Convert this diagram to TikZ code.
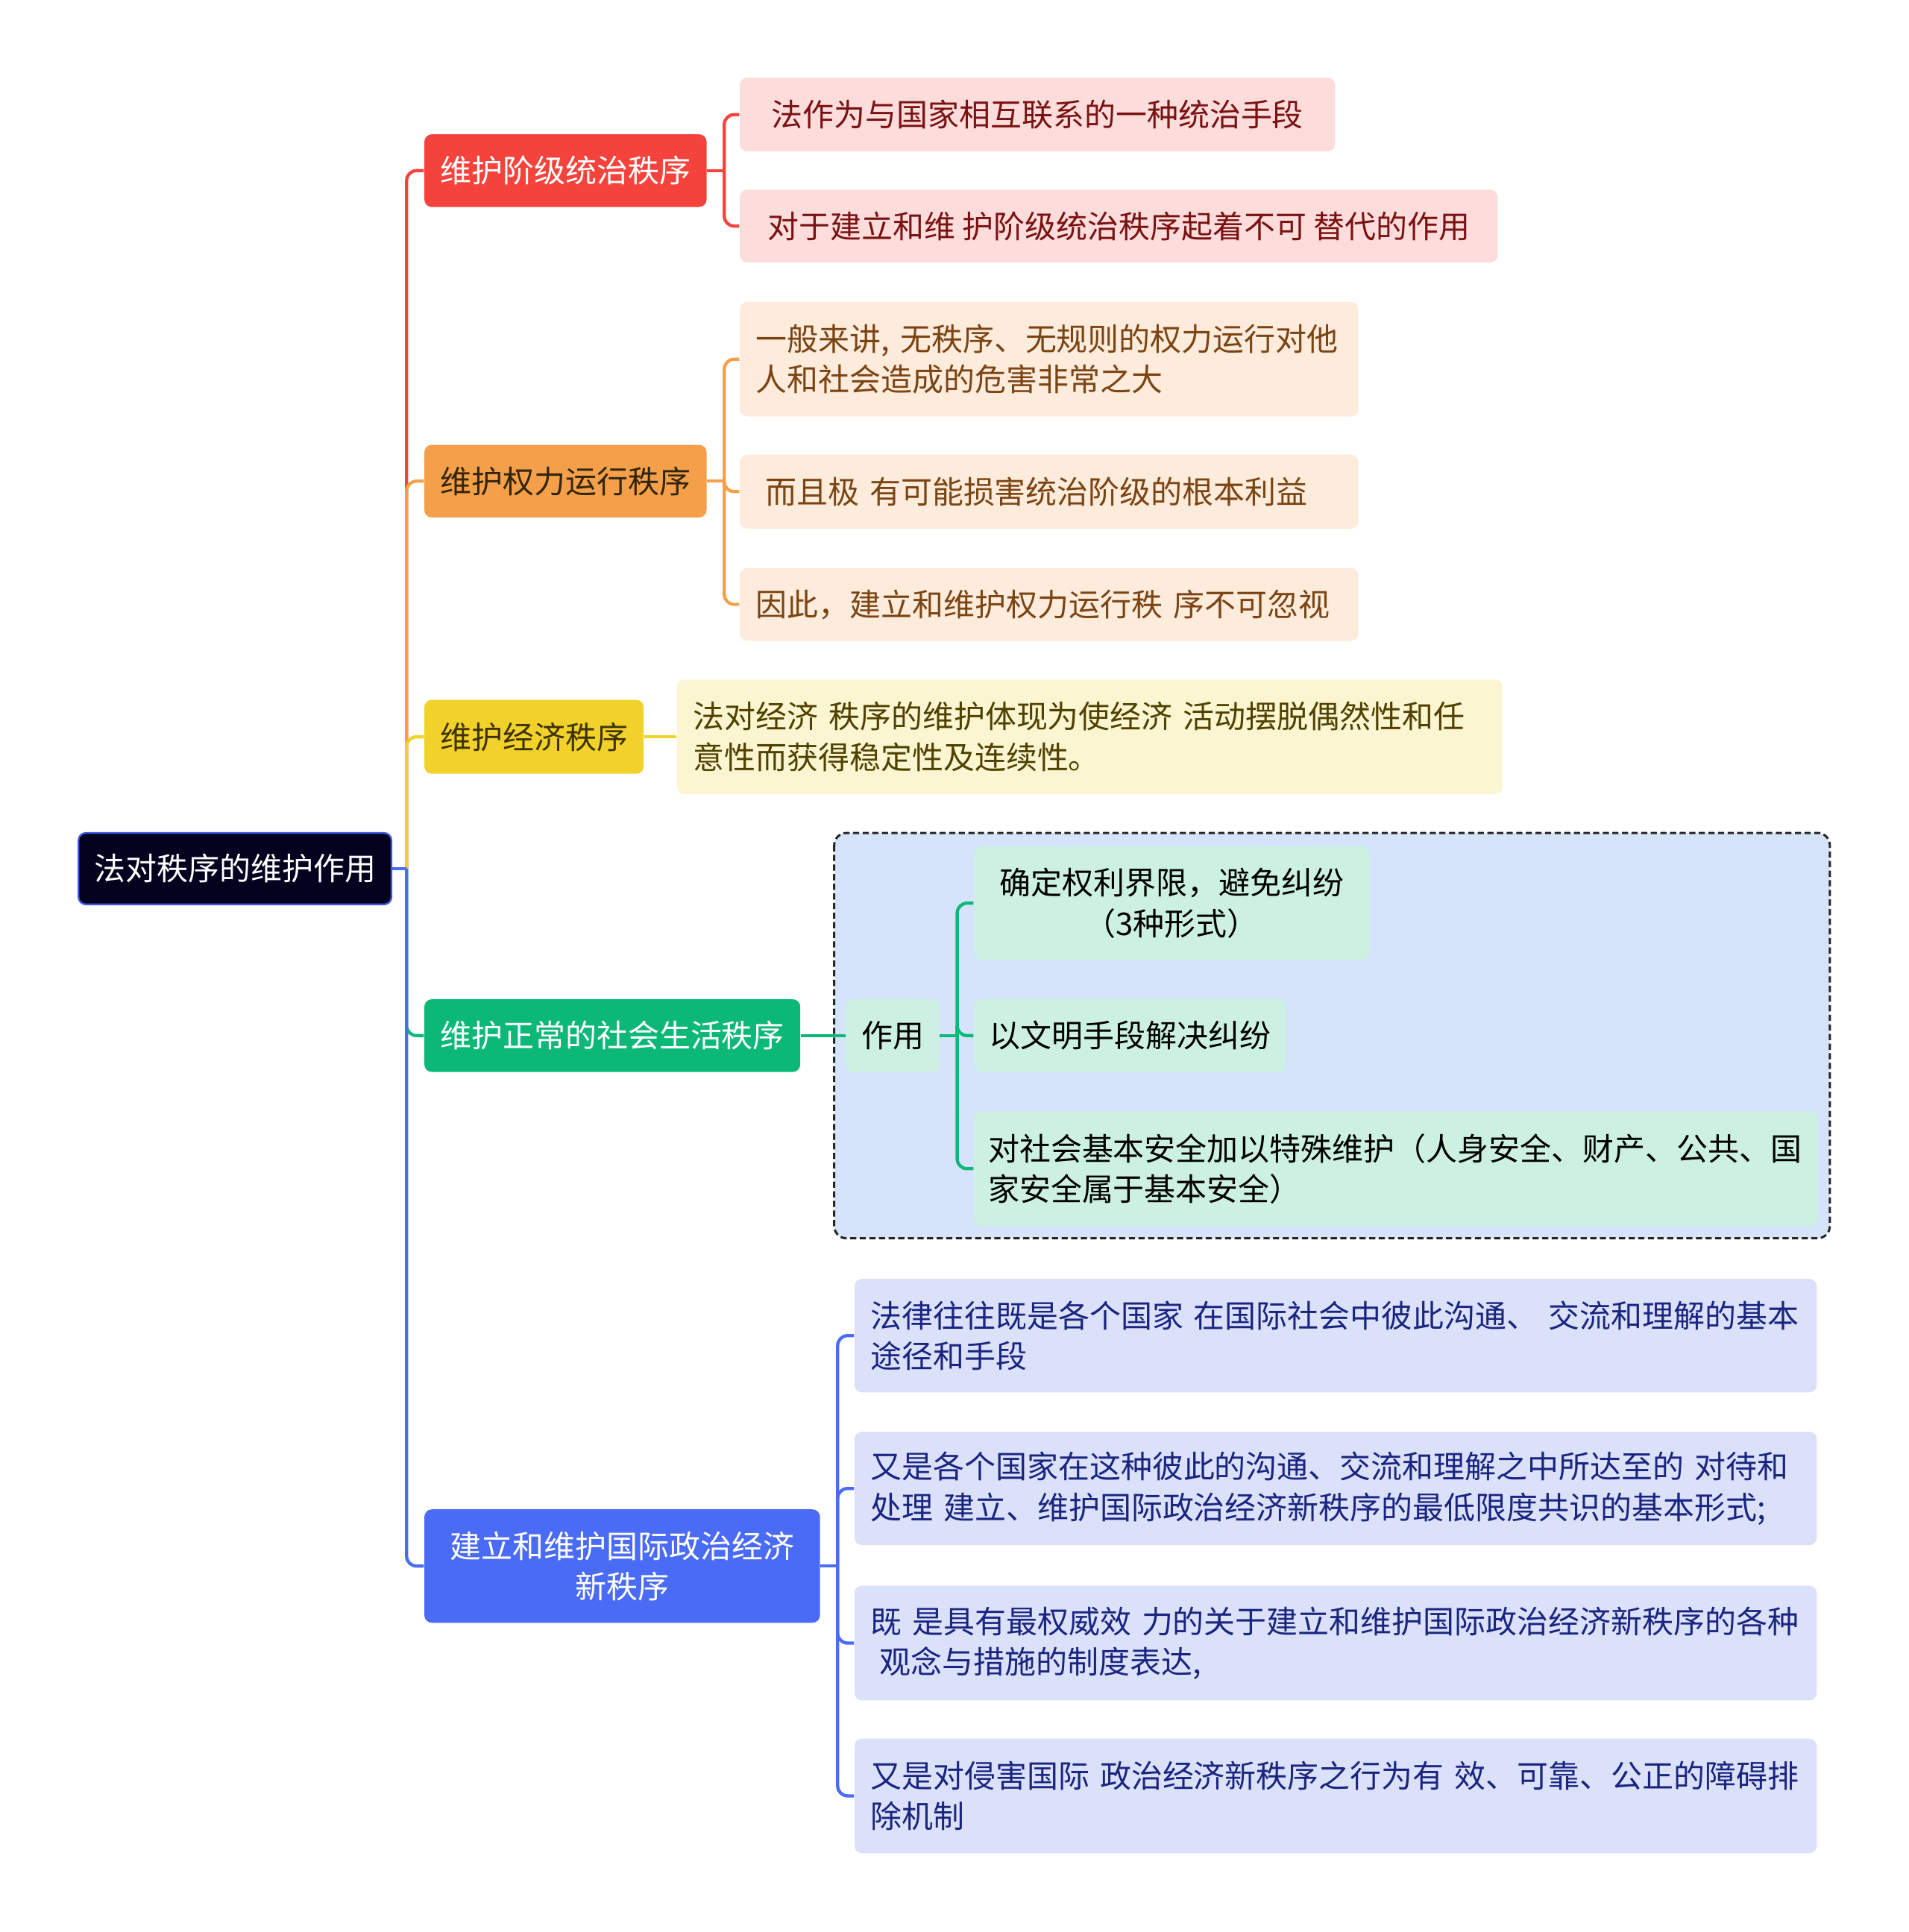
\documentclass[tikz,border=0pt]{standalone}
\usepackage{fontspec}
\setmainfont{Noto Sans CJK SC}
\newcommand\fs{\fontsize{12.7pt}{16.5pt}\selectfont}
\definecolor{cRed}{HTML}{F4433C}
\definecolor{cOrange}{HTML}{F4A04B}
\definecolor{cYellow}{HTML}{F2D22A}
\definecolor{cGreen}{HTML}{0CB877}
\definecolor{cBlue}{HTML}{4A6BF5}
\definecolor{cRoot}{HTML}{02021F}
\definecolor{cRootLine}{HTML}{3D5AE0}
\definecolor{fRed}{HTML}{FDDCDC}
\definecolor{fOrange}{HTML}{FDEBDC}
\definecolor{fYellow}{HTML}{FCF5D2}
\definecolor{fGreen}{HTML}{CDF1E1}
\definecolor{fBlue}{HTML}{DCE1FA}
\definecolor{fFrame}{HTML}{D5E3FB}
\definecolor{tRed}{HTML}{7A1212}
\definecolor{tOrange}{HTML}{7B4413}
\definecolor{tYellow}{HTML}{4F4200}
\definecolor{tBlue}{HTML}{1A2580}
\definecolor{tDarkO}{HTML}{33250A}
\definecolor{tDarkY}{HTML}{3D3300}
\begin{document}
\begin{tikzpicture}[x=0.5pt,y=-0.5pt,
  box/.style={rounded corners=3pt, anchor=west, inner ysep=0pt, font=\fs, align=left},
  conn/.style={line width=1.3pt, rounded corners=4pt}]
\useasboundingbox (0,0) rectangle (1549,1568);

% frame
\path[fill=fFrame, draw=black!85, line width=0.9pt, dash pattern=on 2.5pt off 1.4pt, rounded corners=5pt]
  (677,676) rectangle (1485,1005);

% root
\node[box, fill=cRoot, draw=cRootLine, line width=0.7pt, text=white, align=center,
  minimum width=127pt, minimum height=29pt] (root) at (63,705) {法对秩序的维护作用};

% branches
\node[box, fill=cRed, text=white, align=center, minimum width=114.5pt, minimum height=29.5pt]
  (b1) at (344,138.5) {维护阶级统治秩序};
\node[box, fill=cOrange, text=tDarkO, align=center, minimum width=114.5pt, minimum height=29.5pt]
  (b2) at (344,390.5) {维护权力运行秩序};
\node[box, fill=cYellow, text=tDarkY, align=center, minimum width=89pt, minimum height=30pt]
  (b3) at (344,598) {维护经济秩序};
\node[box, fill=cGreen, text=white, align=center, minimum width=152.5pt, minimum height=29.5pt]
  (b4) at (344,840.5) {维护正常的社会生活秩序};
\node[box, fill=cBlue, text=white, align=center, minimum width=160.5pt, minimum height=46pt]
  (b5) at (344,1271) {建立和维护国际政治经济\\新秩序};

% red children
\node[box, fill=fRed, text=tRed, align=center, minimum width=241.5pt, minimum height=30pt]
  (r1) at (600,93) {法作为与国家相互联系的一种统治手段};
\node[box, fill=fRed, text=tRed, align=center, minimum width=307.5pt, minimum height=29.5pt]
  (r2) at (600,183.5) {对于建立和维 护阶级统治秩序起着不可 替代的作用};

% orange children
\node[box, fill=fOrange, text=tOrange, text width=238pt, inner xsep=6.5pt, minimum height=46.5pt]
  (o1) at (600,291.5) {一般来讲, 无秩序、无规则的权力运行对他\\人和社会造成的危害非常之大};
\node[box, fill=fOrange, text=tOrange, text width=238pt, inner xsep=6.5pt, minimum height=30pt]
  (o2) at (600,399) {\hspace*{0.3em}而且极 有可能损害统治阶级的根本利益};
\node[box, fill=fOrange, text=tOrange, text width=238pt, inner xsep=6.5pt, minimum height=29.5pt]
  (o3) at (600,490.5) {因此，建立和维护权力运行秩 序不可忽视};

% yellow child
\node[box, fill=fYellow, text=tYellow, text width=322pt, inner xsep=6.5pt, minimum height=46.5pt]
  (y1) at (549,598) {法对经济 秩序的维护体现为使经济 活动摆脱偶然性和任\\意性而获得稳定性及连续性。};

% green children
\node[box, fill=fGreen, text=black, align=center, minimum width=38pt, minimum height=29.5pt]
  (g0) at (686,840.5) {作用};
\node[box, fill=fGreen, text=black, align=center, minimum width=160.5pt, minimum height=46pt]
  (g1) at (790,733) {确定权利界限，避免纠纷\\（3种形式）};
\node[box, fill=fGreen, text=black, align=center, minimum width=126.5pt, minimum height=29.5pt]
  (g2) at (790,840.5) {以文明手段解决纠纷};
\node[box, fill=fGreen, text=black, text width=331pt, inner xsep=5.75pt, minimum height=46.5pt]
  (g3) at (790,948.5) {对社会基本安全加以特殊维护（人身安全、财产、公共、国\\家安全属于基本安全）};

% blue children
\node[box, fill=fBlue, text=tBlue, text width=377.5pt, inner xsep=6.5pt, minimum height=46pt]
  (l1) at (693,1084) {法律往往既是各个国家 在国际社会中彼此沟通、 交流和理解的基本\\途径和手段};
\node[box, fill=fBlue, text=tBlue, text width=377.5pt, inner xsep=6.5pt, minimum height=46pt]
  (l2) at (693,1208) {又是各个国家在这种彼此的沟通、交流和理解之中所达至的 对待和\\处理 建立、维护国际政治经济新秩序的最低限度共识的基本形式;};
\node[box, fill=fBlue, text=tBlue, text width=377.5pt, inner xsep=6.5pt, minimum height=46.5pt]
  (l3) at (693,1333.5) {既 是具有最权威效 力的关于建立和维护国际政治经济新秩序的各种\\\hspace*{0.3em}观念与措施的制度表达,};
\node[box, fill=fBlue, text=tBlue, text width=377.5pt, inner xsep=6.5pt, minimum height=46.5pt]
  (l4) at (693,1457.5) {又是对侵害国际 政治经济新秩序之行为有 效、可靠、公正的障碍排\\除机制};

% spine
\coordinate (hub) at (330,705);
\draw[conn, cRed] (hub) |- (b1.west);
\draw[conn, cOrange] (hub) |- (b2.west);
\draw[conn, cYellow] (hub) |- (b3.west);
\draw[conn, cGreen] (hub) |- (b4.west);
\draw[conn, cBlue] (hub) |- (b5.west);
\draw[conn, cBlue] (root.east) -- (hub);

% red bracket
\coordinate (j1) at ([xshift=7pt]b1.east);
\draw[conn, cRed] (b1.east) -- (j1);
\draw[conn, cRed] (j1) |- (r1.west);
\draw[conn, cRed] (j1) |- (r2.west);

% orange bracket
\coordinate (j2) at ([xshift=7pt]b2.east);
\draw[conn, cOrange] (b2.east) -- (j2);
\draw[conn, cOrange] (j2) |- (o1.west);
\draw[conn, cOrange] (j2) |- (o2.west);
\draw[conn, cOrange] (j2) |- (o3.west);

% yellow
\draw[conn, cYellow] (b3.east) -- (y1.west);

% green
\draw[conn, cGreen] (b4.east) -- (g0.west);
\coordinate (j4) at ([xshift=7pt]g0.east);
\draw[conn, cGreen] (g0.east) -- (j4);
\draw[conn, cGreen] (j4) |- (g1.west);
\draw[conn, cGreen] (j4) |- (g2.west);
\draw[conn, cGreen] (j4) |- (g3.west);

% blue bracket
\coordinate (j5) at ([xshift=7pt]b5.east);
\draw[conn, cBlue] (b5.east) -- (j5);
\draw[conn, cBlue] (j5) |- (l1.west);
\draw[conn, cBlue] (j5) |- (l2.west);
\draw[conn, cBlue] (j5) |- (l3.west);
\draw[conn, cBlue] (j5) |- (l4.west);
\end{tikzpicture}
\end{document}
